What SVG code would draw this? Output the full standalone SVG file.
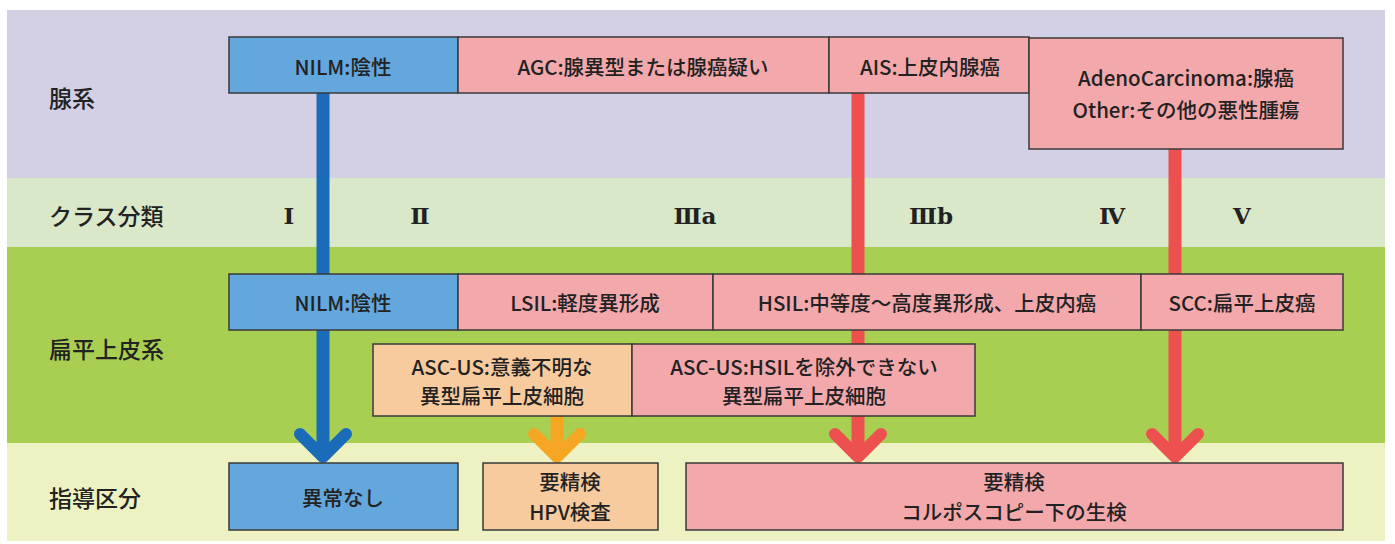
<svg xmlns="http://www.w3.org/2000/svg" width="1395" height="544" viewBox="0 0 1395 544">
<style>
.bx{stroke:#3a3a3a;stroke-width:1.5}
.blue{fill:#63a7dd}
.pink{fill:#f3a8ac}
.orange{fill:#f8cb9f}
.t{font-family:"Noto Sans CJK JP","Noto Sans",sans-serif;font-size:20.5px;fill:#222;text-anchor:middle;dominant-baseline:central;font-weight:500}
.lbl{font-family:"Noto Sans CJK JP","Noto Sans",sans-serif;font-size:23px;fill:#222;dominant-baseline:central;font-weight:500}
.num{font-family:"DejaVu Serif","Noto Sans CJK JP",serif;font-size:23px;fill:#222;text-anchor:middle;dominant-baseline:central;font-weight:bold}
.sh{fill:none;stroke-width:13;stroke-linecap:butt}
.hd{fill:none;stroke-width:12;stroke-linecap:round;stroke-linejoin:round}
</style>
<rect width="1395" height="544" fill="#ffffff"/>
<g id="bands">
<rect x="7" y="10" width="1378" height="168" fill="#d3cfe5"/>
<rect x="7" y="178" width="1378" height="69" fill="#d9e8c8"/>
<rect x="7" y="247" width="1378" height="196" fill="#a9cf52"/>
<rect x="7" y="443" width="1378" height="98" fill="#eef2c2"/>
</g>
<g id="row-labels">
<text class="lbl" x="49" y="97">腺系</text>
<text class="lbl" x="49" y="215">クラス分類</text>
<text class="lbl" x="49" y="348">扁平上皮系</text>
<text class="lbl" x="49" y="497">指導区分</text>
</g>
<g id="class-labels">
<text class="num" x="289" y="215">Ⅰ</text>
<text class="num" x="420" y="215">Ⅱ</text>
<text class="num" x="695" y="215">Ⅲa</text>
<text class="num" x="931" y="215">Ⅲb</text>
<text class="num" x="1112" y="215">Ⅳ</text>
<text class="num" x="1242" y="215">Ⅴ</text>
</g>
<g id="connectors">
<line class="sh" x1="323" y1="93" x2="323" y2="455" stroke="#1a6bb8"/>
<polyline class="hd" points="300,434 323,457 346,434" stroke="#1a6bb8"/>
<line class="sh" x1="557" y1="416" x2="557" y2="455" stroke="#f5a623"/>
<polyline class="hd" points="534,434 557,457 580,434" stroke="#f5a623"/>
<line class="sh" x1="858" y1="93" x2="858" y2="455" stroke="#ec5150"/>
<polyline class="hd" points="835,434 858,457 881,434" stroke="#ec5150"/>
<line class="sh" x1="1175" y1="149" x2="1175" y2="455" stroke="#ec5150"/>
<polyline class="hd" points="1152,434 1175,457 1198,434" stroke="#ec5150"/>
</g>
<g id="g-nilm"><rect class="bx blue" x="229" y="37" width="229" height="56"/><text class="t" x="343" y="66">NILM:陰性</text></g>
<g id="g-agc"><rect class="bx pink" x="458" y="37" width="371" height="56"/><text class="t" x="643" y="66">AGC:腺異型または腺癌疑い</text></g>
<g id="g-ais"><rect class="bx pink" x="829" y="37" width="200" height="56"/><text class="t" x="930" y="66">AIS:上皮内腺癌</text></g>
<g id="g-adeno"><rect class="bx pink" x="1029" y="38" width="314" height="111"/><text class="t" x="1186" y="77">AdenoCarcinoma:腺癌</text><text class="t" x="1186" y="109">Other:その他の悪性腫瘍</text></g>
<g id="s-nilm"><rect class="bx blue" x="229" y="274" width="229" height="56"/><text class="t" x="343" y="302">NILM:陰性</text></g>
<g id="s-lsil"><rect class="bx pink" x="458" y="274" width="255" height="56"/><text class="t" x="585" y="302">LSIL:軽度異形成</text></g>
<g id="s-hsil"><rect class="bx pink" x="713" y="274" width="428" height="56"/><text class="t" x="927" y="302">HSIL:中等度〜高度異形成、上皮内癌</text></g>
<g id="s-scc"><rect class="bx pink" x="1141" y="274" width="202" height="56"/><text class="t" x="1242" y="302">SCC:扁平上皮癌</text></g>
<g id="s-ascus"><rect class="bx orange" x="373" y="344" width="259" height="72"/><text class="t" x="502" y="366">ASC-US:意義不明な</text><text class="t" x="502" y="395">異型扁平上皮細胞</text></g>
<g id="s-asch"><rect class="bx pink" x="632" y="344" width="343" height="72"/><text class="t" x="804" y="366">ASC-US:HSILを除外できない</text><text class="t" x="804" y="395">異型扁平上皮細胞</text></g>
<g id="d-normal"><rect class="bx blue" x="229" y="463" width="229" height="67"/><text class="t" x="343" y="497">異常なし</text></g>
<g id="d-hpv"><rect class="bx orange" x="483" y="463" width="175" height="67"/><text class="t" x="570" y="481">要精検</text><text class="t" x="570" y="511">HPV検査</text></g>
<g id="d-colpo"><rect class="bx pink" x="686" y="463" width="657" height="67"/><text class="t" x="1014" y="481">要精検</text><text class="t" x="1014" y="511">コルポスコピー下の生検</text></g>
</svg>
